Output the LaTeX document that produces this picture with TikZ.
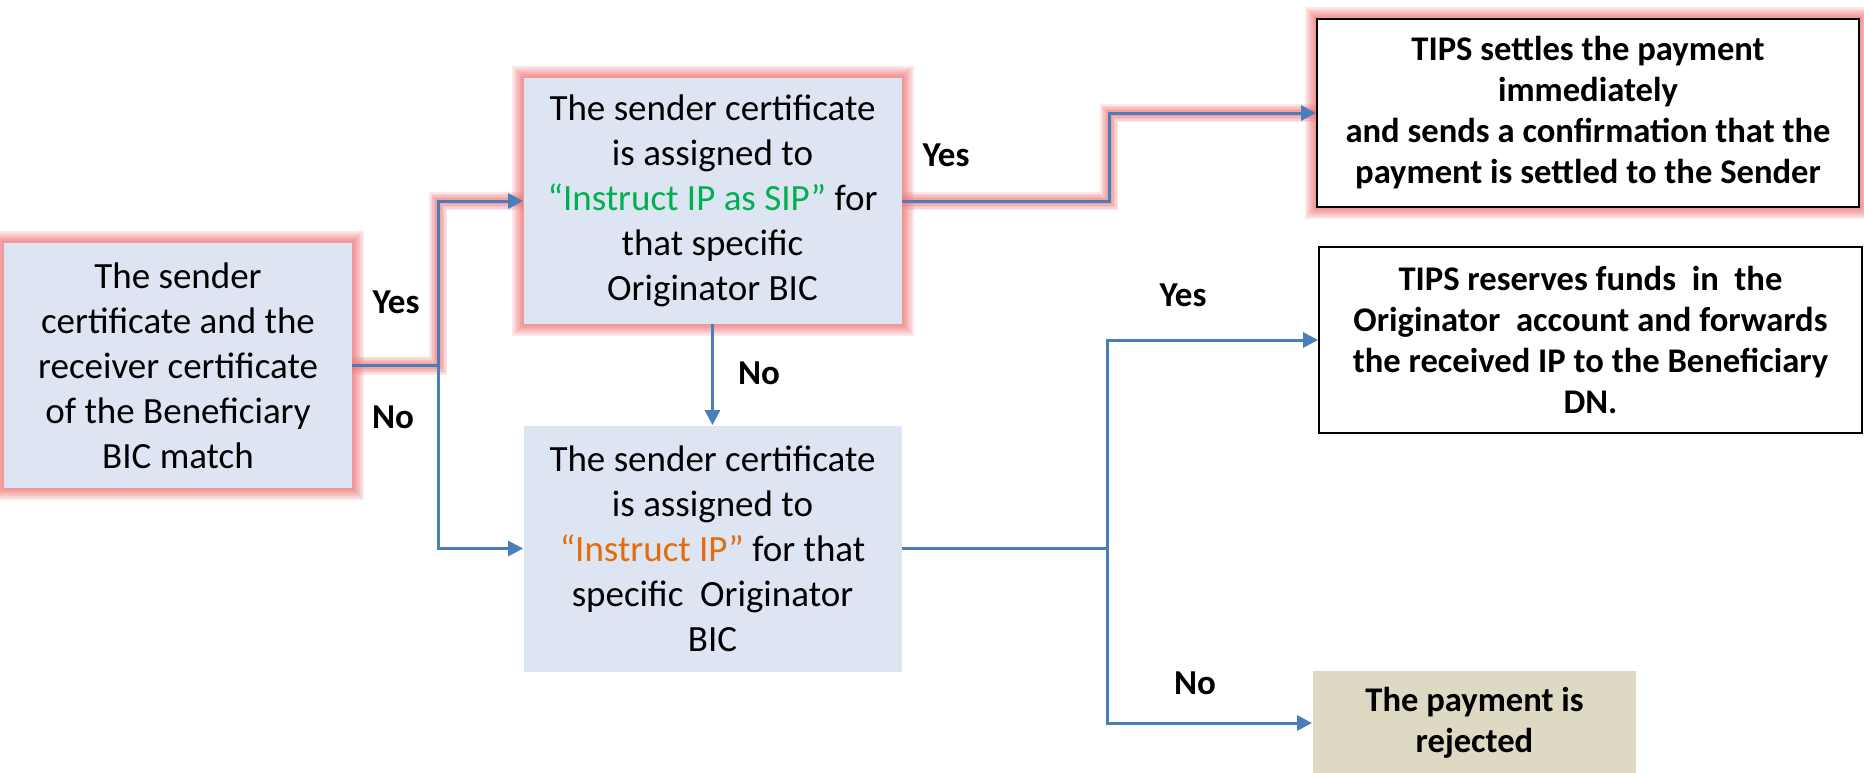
\documentclass[tikz,border=0pt]{standalone}
\usepackage{fontspec}
\setmainfont{Carlito}
\usetikzlibrary{arrows.meta,backgrounds}

\definecolor{linkblue}{RGB}{74,126,187}
\definecolor{boxblue}{RGB}{220,229,241}
\definecolor{glowred}{RGB}{238,120,120}
\definecolor{sipgreen}{RGB}{0,176,80}
\definecolor{iporange}{RGB}{228,108,10}
\definecolor{rejtan}{RGB}{221,217,195}

\begin{document}
\begin{tikzpicture}[x=0.5pt,y=-0.5pt,
  check node/.style={rectangle,fill=boxblue,inner sep=0pt,align=center,
    font=\fontsize{18.5}{22.5}\selectfont,minimum width=189pt,minimum height=123pt},
  result node/.style={rectangle,draw=black,line width=1pt,fill=white,inner sep=0pt,
    align=center,font=\fontsize{17.3}{20.5}\selectfont\bfseries},
  glow/.style={preaction={draw=glowred,line width=12pt,opacity=.18},
    preaction={draw=glowred,line width=10pt,opacity=.18},
    preaction={draw=glowred,line width=8pt,opacity=.2},
    preaction={draw=glowred,line width=6pt,opacity=.22},
    preaction={draw=glowred,line width=4pt,opacity=.25},
    preaction={draw=glowred,line width=2pt,opacity=.3}},
  flow/.style={draw=linkblue,line width=1.5pt,-{Triangle[length=7.5pt,width=7.5pt]}},
  answer/.style={font=\fontsize{17.5}{20}\selectfont\bfseries}]

  \useasboundingbox (0,0) rectangle (1864,772);

  \node[check node,glow,minimum width=174pt,minimum height=122.5pt] (A) at (178,365.5)
    {The sender\\ certificate and the\\ receiver certificate\\ of the Beneficiary\\ BIC match};
  \node[check node,glow] (B) at (712.5,201)
    {The sender certificate\\ is assigned to\\ \textcolor{sipgreen}{“Instruct IP as SIP”} for\\ that specific\\ Originator BIC};
  \node[check node] (C) at (712.5,548.5)
    {The sender certificate\\ is assigned to\\ \textcolor{iporange}{“Instruct IP”} for that\\ specific\ \ Originator\\ BIC};

  \node[result node,glow,minimum width=271pt,minimum height=94pt] (D) at (1588,113)
    {TIPS settles the payment\\ immediately\\ and sends a confirmation that the\\ payment is settled to the Sender};
  \node[result node,minimum width=271.5pt,minimum height=93pt] (E) at (1590.5,340)
    {TIPS reserves funds\ \ in\ \ the\\ Originator\ \ account and forwards\\ the received IP to the Beneficiary\\ DN.};
  \node[result node,draw=none,fill=rejtan,minimum width=161.5pt,minimum height=52pt] (F) at (1474.5,723)
    {The payment is\\ rejected};

  \coordinate (j1) at (438,366);
  \coordinate (j2) at (1109,200);
  \coordinate (j3) at (1107,548);

  % glow under the yes path
  \begin{scope}[on background layer]
    \foreach \w/\o in {9pt/.18,7.5pt/.18,6pt/.2,4.5pt/.22,3pt/.25}
      \draw[glowred,line width=\w,opacity=\o]
        (A.east) -- (A.east -| j1) |- (B.west)
        (B.east) -- (B.east -| j2) |- (D.west);
  \end{scope}

  \draw[flow] (A.east) -- (A.east -| j1) |- (B.west);
  \draw[flow] (A.east -| j1) |- (C.west);
  \draw[flow] (B.east) -- (B.east -| j2) |- (D.west);
  \draw[flow] (B.south) -- (B.south |- C.north);
  \draw[flow] (C.east) -- (C.east -| j3) |- (E.west);
  \draw[flow] (C.east -| j3) |- (F.west);

  \node[answer] (yes1) at (396,302) {Yes};
  \node[answer] (no1) at (393,417) {No};
  \node[answer] (yes2) at (946,155) {Yes};
  \node[answer] (no2) at (759,373) {No};
  \node[answer] (yes3) at (1183,295) {Yes};
  \node[answer] (no3) at (1195,683) {No};
\end{tikzpicture}
\end{document}
